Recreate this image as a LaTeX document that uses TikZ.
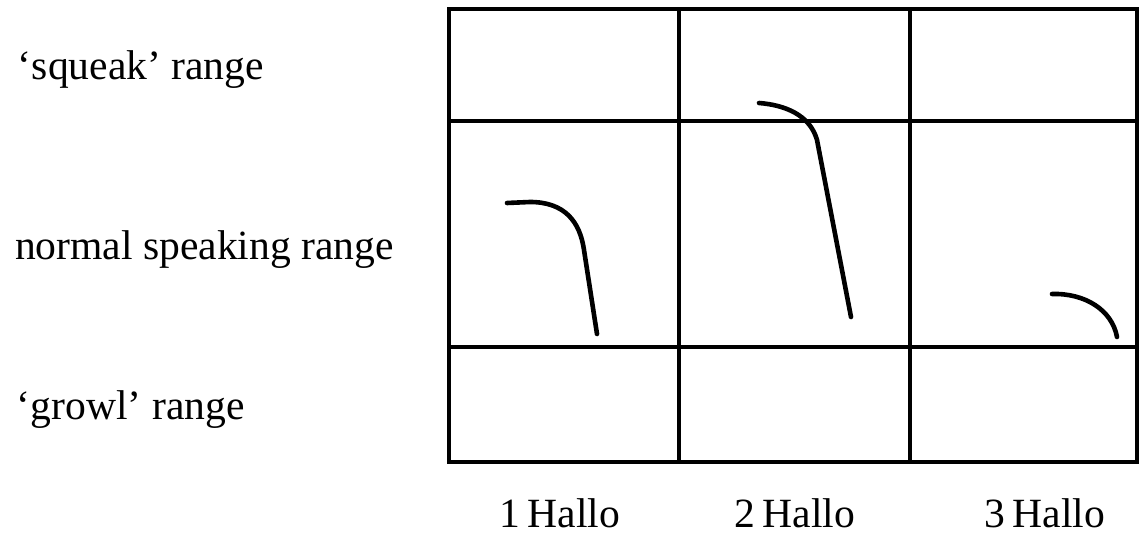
\documentclass[tikz,border=0pt]{standalone}
\usepackage{fontspec}
\setmainfont{Liberation Serif}
\usetikzlibrary{positioning}

\begin{document}
\begin{tikzpicture}[x=0.5pt,y=-0.5pt,line width=2pt,
  rangelbl/.style={anchor=base west,inner sep=0pt,font=\fontsize{20.8}{24}\selectfont},
  hallolbl/.style={anchor=base,inner sep=0pt,font=\fontsize{20.8}{24}\selectfont},
  contour/.style={line width=2.3pt,line cap=round}]
  \useasboundingbox (0,0) rectangle (1144,533);
  % grid of pitch ranges
  \draw (449,9) rectangle (1137,462);
  \draw (679,9) -- (679,462) (910,9) -- (910,462);
  \draw (449,121) -- (1137,121) (449,347) -- (1137,347);
  % range labels
  \node[rangelbl] (squeak) at (16,80) {`squeak' range};
  \node[rangelbl] (normal) at (13,260) {normal speaking range};
  \node[rangelbl] (growl) at (15,420) {`growl' range};
  % pitch contours
  \draw[contour] (507,203) -- (530,202) .. controls (565,202) and (580,222) .. (584,250) -- (597,334);
  \draw[contour] (759,103) .. controls (785,105) and (810,115) .. (817,140) -- (851,317);
  \draw[contour] (1052,294) .. controls (1085,293) and (1112,310) .. (1117,337);
  % utterances
  \node[hallolbl] (hallo1) at (560,527) {1\,Hallo};
  \node[hallolbl] (hallo2) at (795,527) {2\,Hallo};
  \node[hallolbl] (hallo3) at (1045,527) {3\,Hallo};
\end{tikzpicture}
\end{document}
